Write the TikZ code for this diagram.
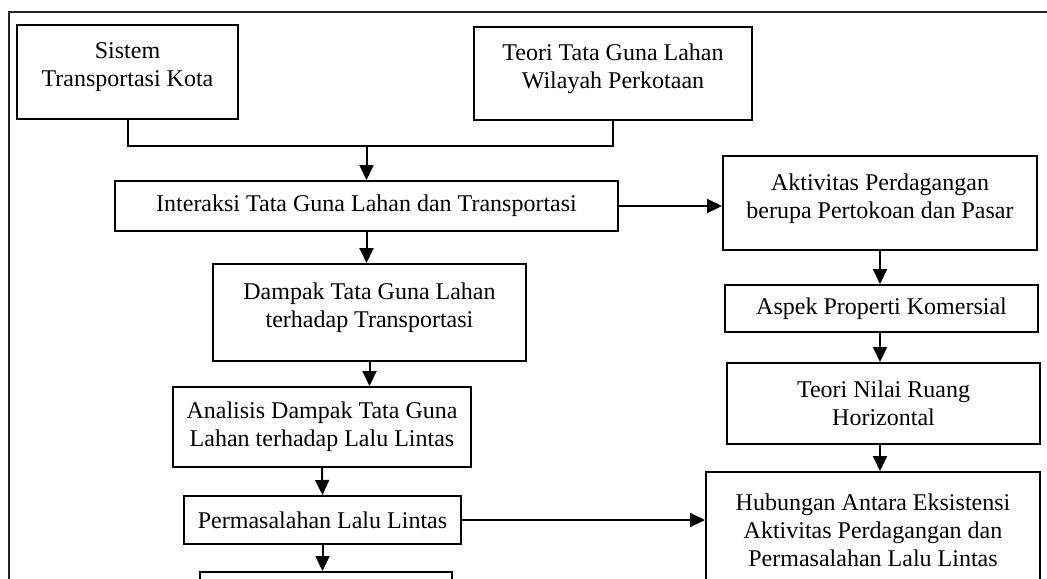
\documentclass[tikz,border=0pt]{standalone}
\usepackage{fontspec}
\setmainfont{Liberation Serif}
\usetikzlibrary{arrows.meta}

\begin{document}
\begin{tikzpicture}[
		x=0.5pt, y=-0.5pt,
		line width=1pt,
		every node/.style={font=\fontsize{12}{14}\selectfont, align=center},
		box/.style={draw, inner sep=0pt},
		frame/.style={draw=black!85},
		link/.style={line width=1pt},
		arrow/.style={link, -{Triangle[width=7pt, length=7.5pt]}}
		]

	% Page area
	\path[use as bounding box, clip] (0, 0) rectangle (1047, 578);
	\draw[frame] (9, 12) rectangle (1080, 640);

	% Top row
	\node[box, minimum width=110.5pt, minimum height=47pt] (sistem) at (127.5, 72) {Sistem\\Transportasi Kota\\[-7pt]~};
	\node[box, minimum width=139pt, minimum height=46.5pt] (teori) at (613, 73.5) {Teori Tata Guna Lahan\\Wilayah Perkotaan\\[-7pt]~};

	% Left column
	\node[box, minimum width=251.5pt, minimum height=25pt] (interaksi) at (366.5, 206) {Interaksi Tata Guna Lahan dan Transportasi};
	\node[box, minimum width=156.5pt, minimum height=48.5pt] (dampak) at (369.5, 312.5) {Dampak Tata Guna Lahan\\terhadap Transportasi\\[-7pt]~};
	\node[box, minimum width=149pt, minimum height=40pt] (analisis) at (322, 427) {Analisis Dampak Tata Guna\\Lahan terhadap Lalu Lintas};
	\node[box, minimum width=138.5pt, minimum height=24pt] (masalah) at (322.5, 520) {Permasalahan Lalu Lintas};
	\node[box, minimum width=126pt, minimum height=25pt] (lanjut) at (326, 597) {};

	% Right column
	\node[box, minimum width=157pt, minimum height=47pt] (aktivitas) at (880, 203) {Aktivitas Perdagangan\\berupa Pertokoan dan Pasar\\[-7pt]~};
	\node[box, minimum width=156.5pt, minimum height=23.5pt] (aspek) at (881.5, 308.5) {Aspek Properti Komersial};
	\node[box, minimum width=156.5pt, minimum height=40.5pt] (nilai) at (883.5, 403.5) {Teori Nilai Ruang\\Horizontal};
	\node[box, minimum width=167pt, minimum height=65pt] (hubungan) at (873, 537) {Hubungan Antara Eksistensi\\Aktivitas Perdagangan dan\\Permasalahan Lalu Lintas\\[-7pt]~};

	% Connectors
	\coordinate (gabung) at (366.5, 146);
	\draw[link] (sistem.south) |- (gabung) -| (teori.south);
	\draw[arrow] (gabung) -- (interaksi.north);
	\draw[arrow] (interaksi.east) -- (interaksi.east -| aktivitas.west);
	\draw[arrow] (interaksi.south) -- (interaksi.south |- dampak.north);
	\draw[arrow] (dampak.south) -- (dampak.south |- analisis.north);
	\draw[arrow] (analisis.south) -- (masalah.north);
	\draw[arrow] (masalah.south) -- (masalah.south |- lanjut.north);
	\draw[arrow] (masalah.east) -- (masalah.east -| hubungan.west);
	\draw[arrow] (aktivitas.south) -- (aspek.north -| aktivitas.south);
	\draw[arrow] (aspek.south -| aktivitas.south) -- (nilai.north -| aktivitas.south);
	\draw[arrow] (nilai.south -| aktivitas.south) -- (hubungan.north -| aktivitas.south);

\end{tikzpicture}
\end{document}
